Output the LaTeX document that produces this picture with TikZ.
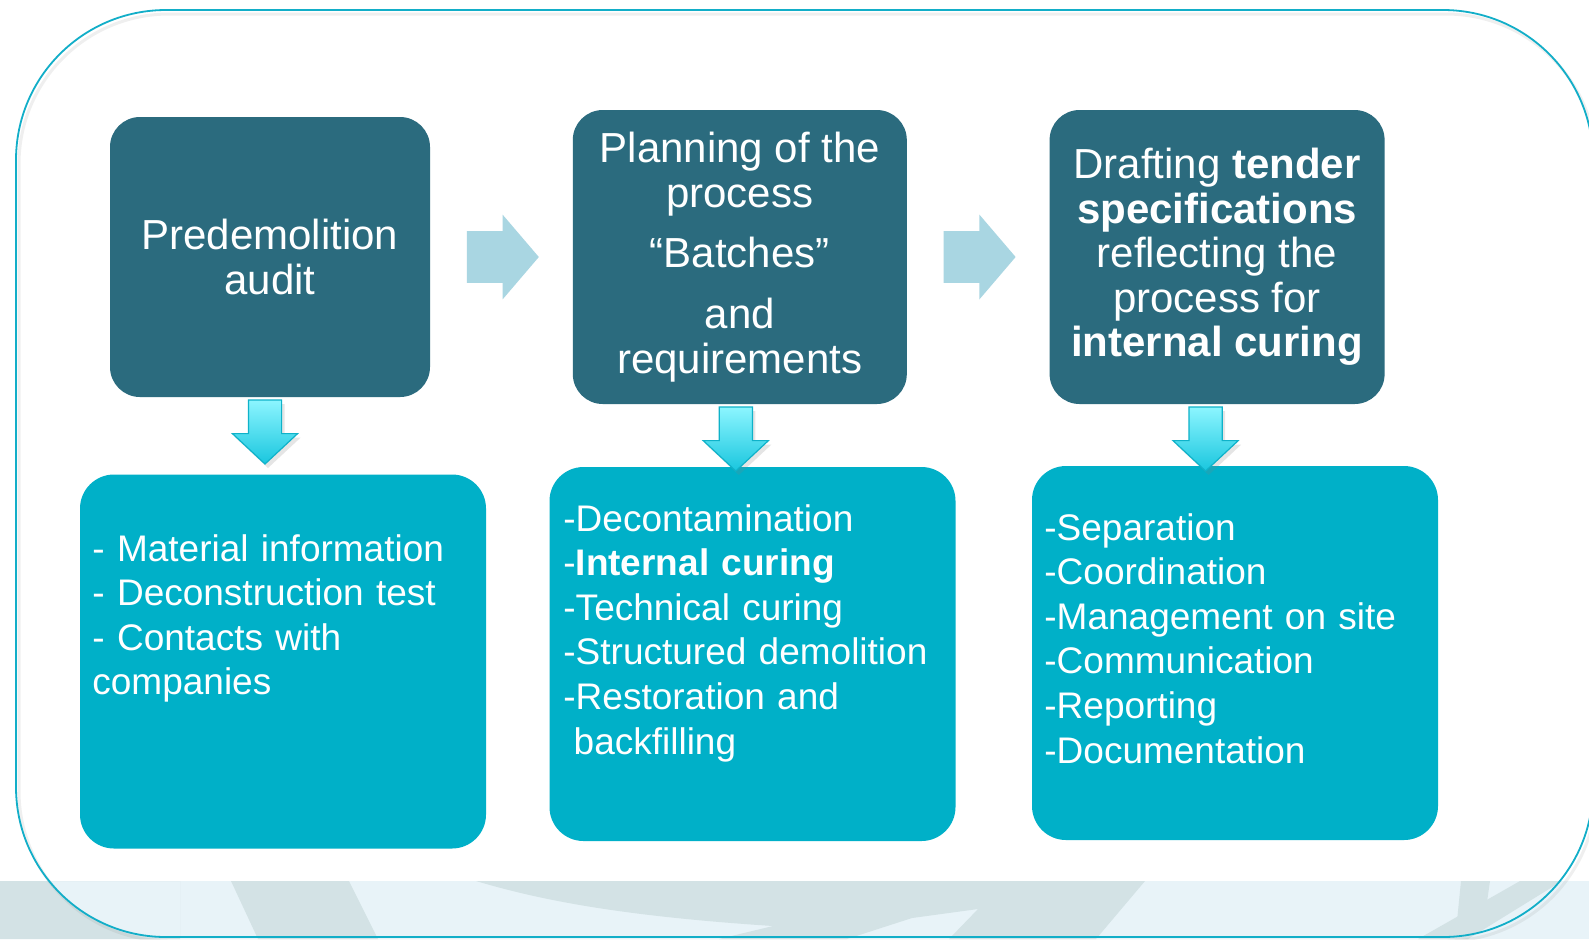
\documentclass[tikz,border=0pt]{standalone}
\usepackage{fontspec}
\setmainfont{Liberation Sans}
\usepackage{xcolor}
\usetikzlibrary{arrows.meta,positioning,shapes.arrows,shadows,calc}

\definecolor{boxdark}{HTML}{2B6B7E}
\definecolor{boxlight}{HTML}{00B0C8}
\definecolor{arrowpale}{HTML}{A9D6E2}
\definecolor{frameline}{HTML}{12AEC8}
\definecolor{bandlight}{HTML}{E8F3F8}
\definecolor{banddark}{HTML}{D3E2E5}
\definecolor{downtop}{HTML}{8CF5FF}
\definecolor{downbottom}{HTML}{19C6DE}
\definecolor{downline}{HTML}{0FB2C9}

\begin{document}
\begin{tikzpicture}[x=0.5pt,y=-0.5pt,
      box_dark/.style={
         rectangle,
         rounded corners=15pt,
         fill=boxdark,
         text=white,
         align=center,
         inner sep=0pt,
         font=\fontsize{21}{22.3}\selectfont},
      box_light/.style={
         rectangle,
         rounded corners=17pt,
         fill=boxlight,
         minimum width=203pt,
         minimum height=187pt,
         inner sep=0pt},
      list_text/.style={
         text=white,
         text width=200pt,
         align=left,
         inner sep=0pt,
         anchor=base west,
         font=\fontsize{18.5}{22.3}\selectfont},
      arrow_right/.style={
         single arrow,
         fill=arrowpale,
         minimum height=36pt,
         inner xsep=0pt,
         inner ysep=12.75pt,
         single arrow head extend=8.25pt,
         single arrow tip angle=99},
      arrow_down/.style={
         single arrow,
         shape border rotate=270,
         top color=downtop,
         bottom color=downbottom,
         draw=downline,
         line width=0.6pt,
         minimum height=32pt,
         inner sep=8pt,
         single arrow head extend=8pt,
         single arrow tip angle=94,
         drop shadow={opacity=0.2,shadow xshift=1.5pt,shadow yshift=-2pt}},
      frame_line/.style={
         draw=frameline,
         line width=0.9pt,
         rounded corners=75pt}
]
      \useasboundingbox (0,0) rectangle (1589,939);
      \fill[white] (0,0) rectangle (1589,939);

      %band at the foot
      \fill[bandlight] (0,881) rectangle (1589,939);
      \fill[banddark] (231,881) -- (349,881) -- (378,939) -- (258,939) -- cycle;
      \fill[banddark] (476,881) -- (1145,881) -- (1096,939) -- (949,939)
         -- (978,909) -- (912,918) -- (847,939) -- (719,939) -- (773,926)
         .. controls (620,916) and (540,900) .. (476,881) -- cycle;
      \fill[banddark] (1461,881) -- (1490,881) -- (1487,902) -- (1457,921) -- cycle;
      \fill[banddark] (1520,881) -- (1562,881) -- (1468,939) -- (1418,939) -- cycle;
      \begin{scope}
         \clip (0,881) rectangle (180,939);
         \fill[banddark, even odd rule] (0,881) rectangle (180,939)
            [rounded corners=75pt] (16,10) rectangle (1593,937);
      \end{scope}

      %frame
      \draw[gray, opacity=0.12, line width=1.5pt, rounded corners=75pt] (19,14) rectangle (1596,941);
      \draw[frame_line] (16,10) rectangle (1593,937);

      %steps
      \node[box_dark, minimum width=160pt, minimum height=140pt] (audit) at (270,257)
         {Predemolition\\audit};
      \node[box_dark, minimum width=167pt, minimum height=147pt, right=71pt of audit] (plan)
         {Planning of the\\process\\[8pt]“Batches”\\[8pt]and\\requirements};
      \node[box_dark, minimum width=167.5pt, minimum height=147pt, right=71pt of plan] (draft)
         {Drafting \textbf{tender}\\\textbf{specifications}\\reflecting the\\process for\\\textbf{internal curing}};

      %contents
      \node[box_light] (facts) at (283,661.5) {};
      \node[box_light] (tasks) at (752.5,654) {};
      \node[box_light] (duties) at (1235,653) {};

      \node[list_text] (facts_txt) at (92,561)
         {- Material information\\- Deconstruction test\\- Contacts with\\companies};
      \node[list_text] (tasks_txt) at (563,531)
         {-Decontamination\\-\textbf{Internal curing}\\-Technical curing\\-Structured demolition\\-Restoration and\\\hspace*{0.278em}backfilling};
      \node[list_text] (duties_txt) at (1044,540)
         {-Separation\\-Coordination\\-Management on site\\-Communication\\-Reporting\\-Documentation};

    \foreach \i/\j in {% from/to
      audit/plan,
      plan/draft}
      \node[arrow_right, anchor=tail] (to_\j) at ([xshift=18pt]\i.east) {};

    \foreach \i/\j/\s in {% from/to/shift
      audit/facts/-2.5,
      plan/tasks/-2,
      draft/duties/-5.75}
      \node[arrow_down, anchor=tail] (down_\j) at ([xshift=\s pt, yshift=-1pt]\i.south) {};

\end{tikzpicture}
\end{document}
